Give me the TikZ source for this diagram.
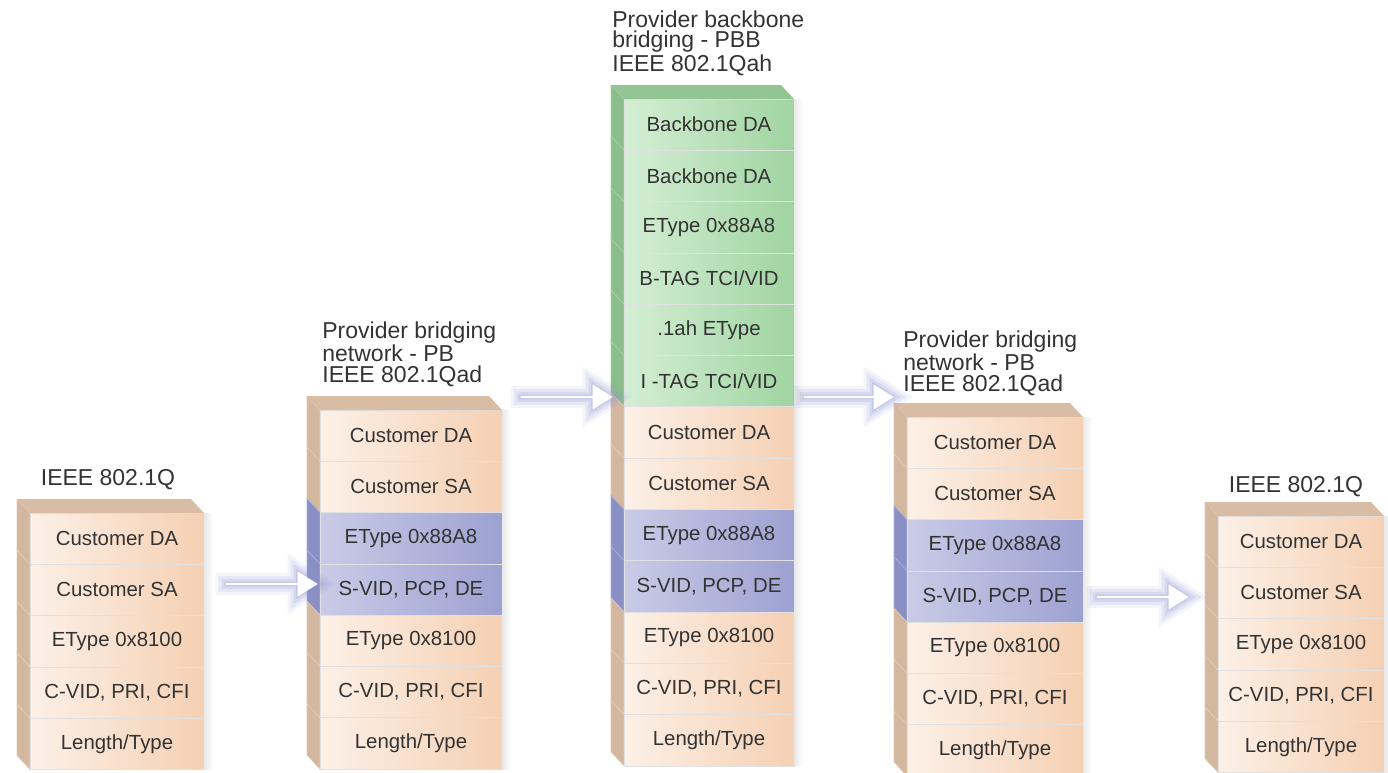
\documentclass[tikz,border=0pt]{standalone}
\usepackage{fontspec}
\setmainfont{Liberation Sans}
\usepackage{xcolor}
\usepackage{tikz}
\usetikzlibrary{shapes.arrows}
\definecolor{custL}{HTML}{FCF0E7}
\definecolor{custR}{HTML}{F5D0B3}
\definecolor{custS}{HTML}{D4B79F}
\definecolor{custT}{HTML}{D9BCA4}
\definecolor{provL}{HTML}{C9CBE6}
\definecolor{provR}{HTML}{9DA1D1}
\definecolor{provS}{HTML}{8A8FC4}
\definecolor{provT}{HTML}{8A8FC4}
\definecolor{bbL}{HTML}{D4EED4}
\definecolor{bbR}{HTML}{A0D4A1}
\definecolor{bbS}{HTML}{8BBE8C}
\definecolor{bbT}{HTML}{93C594}
\definecolor{glow}{HTML}{8F95CF}
\definecolor{txt}{HTML}{333333}
\tikzset{field/.style={
          rectangle,
          anchor=north west,
          draw=black!12,
          line width=0.4pt,
          minimum height=25.65pt,
          inner sep=0pt,
          outer sep=0pt,
          text=txt,
          font=\fontsize{10.2}{12}\selectfont
     }}
\tikzset{stacklabel/.style={
          inner sep=0pt,
          align=left,
          text=txt,
          font=\fontsize{11.5}{10.25}\selectfont
     }}
\tikzset{blockarrow/.style={
          single arrow,
          fill=white,
          minimum width=12.5pt,
          single arrow head extend=2.5pt,
          single arrow tip angle=64,
          inner sep=0pt,
          preaction={draw=glow, line width=10pt, draw opacity=0.1},
          preaction={draw=glow, line width=7pt, draw opacity=0.14},
          preaction={draw=glow, line width=4pt, draw opacity=0.18},
          preaction={draw=glow, line width=1.5pt, draw opacity=0.22}
     }}
% name, left x, top y, width, fields
\newcommand{\fieldstack}[5]{%
  \foreach \lab/\ty [count=\i] in {#5} {
    \coordinate (#1-c\i) at (#2, {#3+(\i-1)*51.3});
    \filldraw[fill=\ty S, draw=\ty S!70!white, line width=0.3pt] (#1-c\i) -- ++(0,51.3) -- ++(-13,-14) -- ++(0,-51.3) -- cycle;
    \node[field, minimum width=#4, left color=\ty L, right color=\ty R] (#1-\i) at (#1-c\i) {\lab};
    \shade[left color=black!9, right color=white] (#1-\i.north east) rectangle ++(9,51.3);
    \ifnum\i=1
      \fill[\ty T] (#1-1.north west) -- (#1-1.north east) -- ++(-13,-14) -- ([shift={(-13,-14)}]#1-1.north west) -- cycle;
    \fi
  }%
}

\begin{document}
\begin{tikzpicture}[x=0.5pt, y=-0.5pt]
\useasboundingbox (0,0) rectangle (1388,772);

\fieldstack{q}{30}{513}{87pt}{Customer DA/cust, Customer SA/cust, EType 0x8100/cust, {C-VID, PRI, CFI}/cust, {Length/Type}/cust}
\fieldstack{pb}{320}{410}{91pt}{Customer DA/cust, Customer SA/cust, EType 0x88A8/prov, {S-VID, PCP, DE}/prov, EType 0x8100/cust, {C-VID, PRI, CFI}/cust, {Length/Type}/cust}
\fieldstack{pbb}{624}{99}{85pt}{Backbone DA/bb, Backbone DA/bb, EType 0x88A8/bb, {B-TAG TCI/VID}/bb, .1ah EType/bb, {I -TAG TCI/VID}/bb, Customer DA/cust, Customer SA/cust, EType 0x88A8/prov, {S-VID, PCP, DE}/prov, EType 0x8100/cust, {C-VID, PRI, CFI}/cust, {Length/Type}/cust}
\fieldstack{pbr}{907}{417}{88pt}{Customer DA/cust, Customer SA/cust, EType 0x88A8/prov, {S-VID, PCP, DE}/prov, EType 0x8100/cust, {C-VID, PRI, CFI}/cust, {Length/Type}/cust}
\fieldstack{qr}{1218}{516}{83pt}{Customer DA/cust, Customer SA/cust, EType 0x8100/cust, {C-VID, PRI, CFI}/cust, {Length/Type}/cust}

\node (qlab) [stacklabel, anchor=base] at (108,485) {IEEE 802.1Q};
\node (pblab) [stacklabel, anchor=north west] at (322,321) {Provider bridging\\network - PB\\IEEE 802.1Qad};
\node (pbblab) [stacklabel, anchor=north west] at (612,10) {Provider backbone\\bridging - PBB\\IEEE 802.1Qah};
\node (pbrlab) [stacklabel, anchor=north west] at (903,330) {Provider bridging\\network - PB\\IEEE 802.1Qad};
\node (qrlab) [stacklabel, anchor=base] at (1296,492) {IEEE 802.1Q};

\node (arr1) [blockarrow, minimum height=46pt] at (271,584) {};
\node (arr2) [blockarrow, minimum height=46pt] at (566,397) {};
\node (arr3) [blockarrow, minimum height=45pt] at (848,397) {};
\node (arr4) [blockarrow, minimum height=46pt] at (1142,597) {};
\end{tikzpicture}
\end{document}
